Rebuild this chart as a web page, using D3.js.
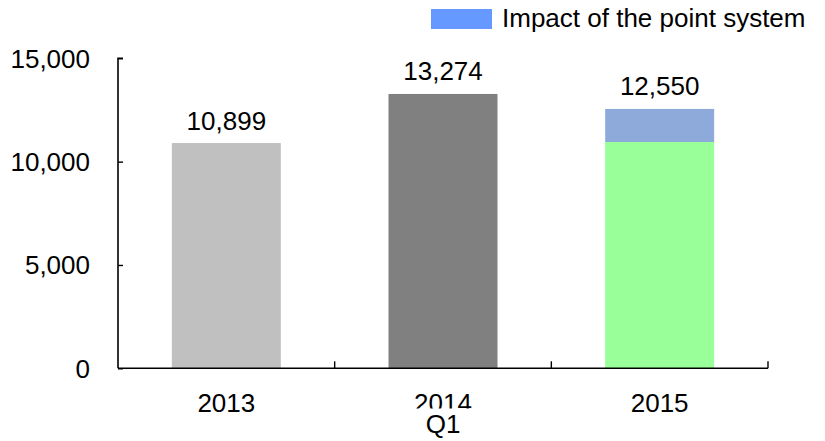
<!DOCTYPE html>
<html>
<head>
<meta charset="utf-8">
<script src="https://cdn.jsdelivr.net/npm/d3@7"></script>
<style>
  html, body { margin: 0; padding: 0; background: #fff; }
  svg { display: block; font-family: "Liberation Sans", Arial, sans-serif; }
</style>
</head>
<body>
<svg id="chart" width="825" height="441"></svg>
<script>
const categories = ["2013", "2014", "2015"];
const baseValues = [10899, 13274, 10950];
const impactValues = [0, 0, 1600];
const totalLabels = ["10,899", "13,274", "12,550"];
const baseColors = ["#C0C0C0", "#808080", "#99FF99"];
const impactColor = "#8EAADB";
const legendColor = "#6699FF";
const legendLabel = "Impact of the point system";
const yTicks = [0, 5000, 10000, 15000];
const axisTitle = "Q1";

(function () {
const svg = d3.select("#chart");
const mLeft = 118, mRight = 768, mTop = 58.3, mBottom = 368.3;
const fs = 26;

const x = d3.scaleBand().domain(categories).range([mLeft, mRight]).paddingInner(0.497).paddingOuter(0.2485);
const y = d3.scaleLinear().domain([0, 15000]).range([mBottom, mTop]);

// bars
const g = svg.append("g");
g.selectAll("rect.base").data(categories).join("rect")
  .attr("x", d => x(d)).attr("width", x.bandwidth())
  .attr("y", (d, i) => y(baseValues[i]))
  .attr("height", (d, i) => y(0) - y(baseValues[i]))
  .attr("fill", (d, i) => baseColors[i]);
g.selectAll("rect.impact").data(categories.filter((d, i) => impactValues[i] > 0)).join("rect")
  .attr("x", d => x(d)).attr("width", x.bandwidth())
  .attr("y", d => { const i = categories.indexOf(d); return y(baseValues[i] + impactValues[i]); })
  .attr("height", d => { const i = categories.indexOf(d); return y(baseValues[i]) - y(baseValues[i] + impactValues[i]); })
  .attr("fill", impactColor);

// value labels
g.selectAll("text.val").data(categories).join("text")
  .attr("x", d => x(d) + x.bandwidth() / 2)
  .attr("y", (d, i) => y(baseValues[i] + impactValues[i]) - 13.5)
  .attr("text-anchor", "middle").attr("font-size", fs).attr("fill", "#000")
  .text((d, i) => totalLabels[i]);

// y axis
const yAxis = d3.axisRight(y).tickValues(yTicks).tickSize(5).tickFormat("");
const ya = svg.append("g").attr("transform", `translate(${mLeft},0)`).call(yAxis);
ya.select(".domain").attr("stroke", "#000").attr("stroke-width", 1.6).attr("d", `M5,${mTop}H0V${mBottom}`);
ya.selectAll(".tick line").attr("stroke", "#000").attr("stroke-width", 1.4);
svg.append("g").selectAll("text").data(yTicks).join("text")
  .attr("x", mLeft - 28).attr("y", d => y(d)).attr("dy", "0.36em")
  .attr("text-anchor", "end").attr("font-size", fs).attr("fill", "#000")
  .text(d => d3.format(",")(d));

// x axis
const bounds = categories.map(c => x(c) + x.bandwidth() / 2 + x.step() / 2);
const xa = svg.append("g");
xa.append("line").attr("x1", mLeft).attr("x2", mRight).attr("y1", mBottom).attr("y2", mBottom)
  .attr("stroke", "#000").attr("stroke-width", 1.6);
xa.selectAll("line.t").data(bounds).join("line")
  .attr("x1", d => d).attr("x2", d => d).attr("y1", mBottom).attr("y2", mBottom - 7)
  .attr("stroke", "#000").attr("stroke-width", 1.4);
xa.selectAll("text").data(categories).join("text")
  .attr("x", d => x(d) + x.bandwidth() / 2).attr("y", 412)
  .attr("text-anchor", "middle").attr("font-size", fs).attr("fill", "#000")
  .text(d => d);

// axis title (its box clips the middle label, as in the reference)
const midX = x(categories[1]) + x.bandwidth() / 2;
svg.append("rect").attr("x", midX - 36).attr("y", 408.5).attr("width", 72).attr("height", 33).attr("fill", "#fff");
svg.append("text").attr("x", midX).attr("y", 433).attr("text-anchor", "middle")
  .attr("font-size", fs).attr("fill", "#000").text(axisTitle);

// legend
svg.append("rect").attr("x", 431).attr("y", 9).attr("width", 61).attr("height", 20).attr("fill", legendColor);
svg.append("text").attr("x", 502).attr("y", 27.3).attr("font-size", fs).attr("fill", "#000").text(legendLabel);
})();
</script>
</body>
</html>
